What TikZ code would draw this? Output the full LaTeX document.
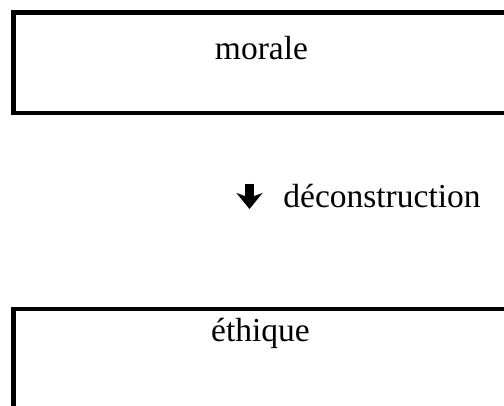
\documentclass[tikz,border=0pt]{standalone}
\usepackage{fontspec}
\setmainfont{Liberation Serif}
\usetikzlibrary{arrows.meta}

\tikzset{
  cadre/.style={line width=2.2pt},
  mot/.style={inner sep=0pt, font=\fontsize{16.75}{20}\selectfont},
  fleche/.style={line width=4.2pt, -{Stealth[length=8pt, width=13pt, inset=2.4pt]}},
}

\begin{document}
\begin{tikzpicture}[x=0.5pt,y=-0.5pt]
\useasboundingbox (0,0) rectangle (504,406);
\clip (0,0) rectangle (504,406);

% cadres
\draw[cadre] (13.5,12.5) rectangle (510,113);
\draw[cadre] (13.5,309) rectangle (510,430);

% textes
\node[mot, anchor=base] (morale) at (261.5,60) {morale};
\node[mot, anchor=base] (ethique) at (260.5,342) {éthique};

% fleche
\coordinate (haut) at (249.5,184);
\coordinate (bas) at (249.5,209);
\draw[fleche] (haut) -- (bas);
\node[mot, anchor=base west] (deconstruction) at (283,208) {déconstruction};
\end{tikzpicture}
\end{document}
